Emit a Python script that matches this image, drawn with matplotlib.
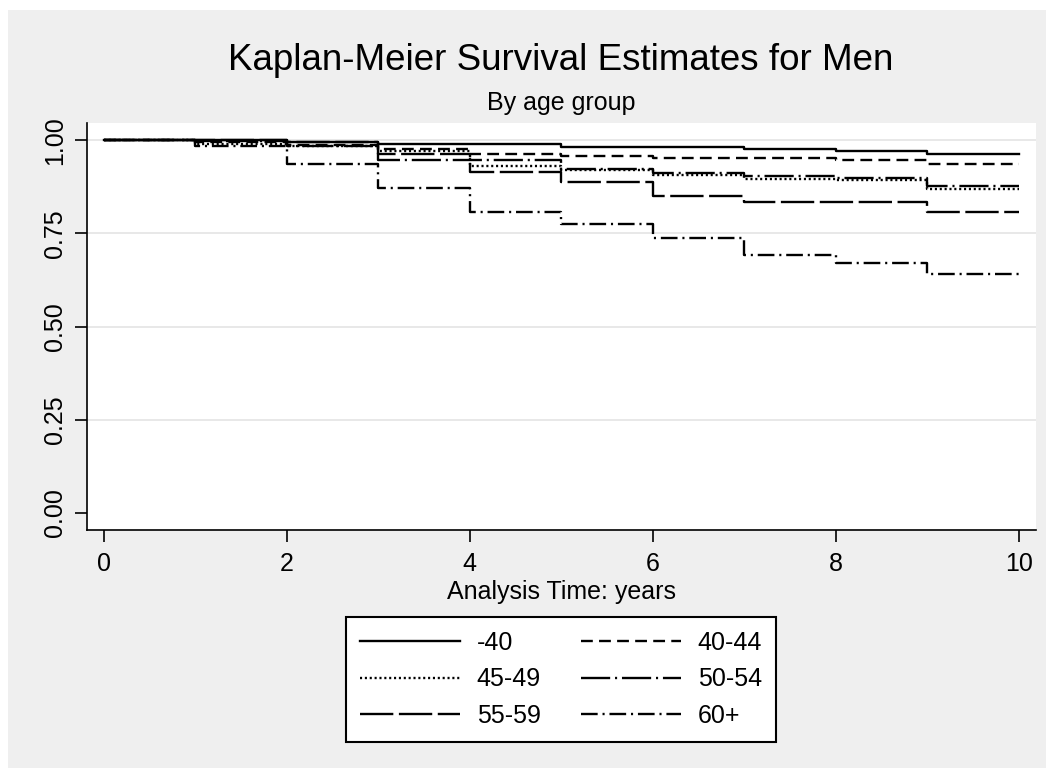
import numpy as np
import matplotlib
matplotlib.use("Agg")
import matplotlib.pyplot as plt
from matplotlib.patches import Rectangle

# ---- data ----
anos = [0, 1, 2, 3, 4, 5, 6, 7, 8, 9, 10]
grupos = ["-40", "40-44", "45-49", "50-54", "55-59", "60+"]
s_40 = [1.000, 1.000, 0.996, 0.989, 0.989, 0.982, 0.982, 0.976, 0.971, 0.964, 0.964]
s_40_44 = [1.000, 0.995, 0.988, 0.976, 0.962, 0.958, 0.952, 0.952, 0.946, 0.935, 0.935]
s_45_49 = [1.000, 0.990, 0.985, 0.972, 0.931, 0.919, 0.907, 0.895, 0.893, 0.870, 0.870]
s_50_54 = [1.000, 0.997, 0.985, 0.946, 0.946, 0.923, 0.912, 0.904, 0.898, 0.877, 0.877]
s_55_59 = [1.000, 1.000, 0.996, 0.964, 0.914, 0.889, 0.850, 0.833, 0.833, 0.806, 0.806]
s_60 = [1.000, 0.985, 0.937, 0.872, 0.806, 0.774, 0.738, 0.691, 0.671, 0.640, 0.640]
x_ticks = [0, 2, 4, 6, 8, 10]
y_ticks = [0.00, 0.25, 0.50, 0.75, 1.00]

curvas = [s_40, s_40_44, s_45_49, s_50_54, s_55_59, s_60]
# dash patterns in points (scale_dashes off)
estilos = [
    "-",
    (0, (8.5, 4.5)),
    (0, (1.5, 2.0)),
    (0, (21, 3.5, 1.5, 3.5)),
    (0, (24, 4)),
    (0, (12, 3.5, 1.5, 3.5)),
]

plt.rcParams["font.family"] = ["Liberation Sans", "DejaVu Sans"]
plt.rcParams["lines.scale_dashes"] = False

W, H = 1054, 772
fig = plt.figure(figsize=(W / 100, H / 100), dpi=100)
fig.patch.set_facecolor("white")
fig.patches.append(Rectangle((8 / W, 4 / H), (1046 - 8) / W, (768 - 10) / H,
                             transform=fig.transFigure, facecolor="#efefef",
                             edgecolor="none", zorder=-10))

ax = fig.add_axes([87 / W, 1 - 530 / H, (1036 - 87) / W, (530 - 123) / H])
ax.set_zorder(1)
ax.set_facecolor("white")

for ys in y_ticks[1:]:
    ax.axhline(ys, color="#e6e6e6", lw=1.3, zorder=1)

for sv, est, nom in zip(curvas, estilos, grupos):
    ax.step(anos, sv, where="post", color="black", lw=1.7, linestyle=est,
            label=nom, zorder=3)

ax.set_xlim(-0.186, 10.19)
ax.set_ylim(-0.046, 1.046)
ax.set_xticks(x_ticks)
ax.set_yticks(y_ticks)
ax.set_yticklabels([f"{v:.2f}" for v in y_ticks])
for s in ["top", "right"]:
    ax.spines[s].set_visible(False)
for s in ["left", "bottom"]:
    ax.spines[s].set_linewidth(1.2)
ax.tick_params(axis="both", direction="out", length=8.5, width=1.2,
               labelsize=18, pad=7)
ax.tick_params(axis="y", labelrotation=90, pad=6)
for t in ax.get_yticklabels():
    t.set_va("center")

ax.set_xlabel("Analysis Time: years", fontsize=18, labelpad=3)

fig.text(561 / W, 1 - 60 / H, "Kaplan-Meier Survival Estimates for Men",
         ha="center", va="center", fontsize=26.5)
fig.text(561 / W, 1 - 103 / H, "By age group", ha="center", va="center",
         fontsize=18)

# Stata fills the legend row by row
h, l = ax.get_legend_handles_labels()
orden = [0, 2, 4, 1, 3, 5]
leg = fig.legend([h[i] for i in orden], [l[i] for i in orden],
                 loc="upper center", bbox_to_anchor=(561 / W, 1 - 617 / H),
                 ncol=2, fontsize=18, frameon=True, fancybox=False,
                 edgecolor="black", framealpha=1, handlelength=4.0,
                 handletextpad=0.68, columnspacing=1.6, labelspacing=0.5,
                 borderpad=0.55, borderaxespad=0)
leg.get_frame().set_linewidth(1.5)

fig.savefig("out.png", dpi=100)
